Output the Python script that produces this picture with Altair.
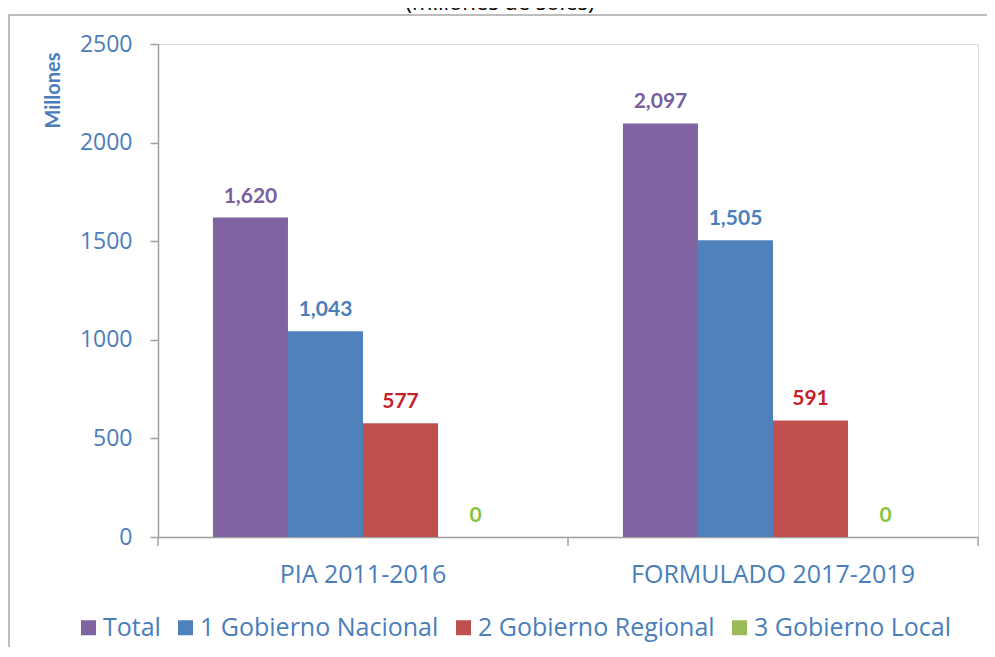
import altair as alt
import pandas as pd

grupos = ["PIA 2011-2016", "FORMULADO 2017-2019"]
series = ["Total", "1 Gobierno Nacional", "2 Gobierno Regional", "3 Gobierno Local"]
valores = {
    "PIA 2011-2016": [1620, 1043, 577, 0],
    "FORMULADO 2017-2019": [2097, 1505, 591, 0],
}
bar_colors = ["#8064a2", "#4f81bd", "#c0504d", "#9bbb59"]
label_colors = ["#7a5ea0", "#4a7ebb", "#c8202a", "#86c440"]
y_ticks = [0, 500, 1000, 1500, 2000, 2500]
subtitulo = "(millones de soles)"
# category boundaries (around / between groups) where Excel puts x ticks
limites = [0, 1, 2]

rows = []
for g in grupos:
    for s, v in zip(series, valores[g]):
        rows.append({"grupo": g, "serie": s, "valor": v})
df = pd.DataFrame(rows)

FONT = "Open Sans"
BFONT = "Lato"
AXIS_BLUE = "#4a7ebb"
GRAY = "#a0a0a0"


def x_scale():
    return alt.Scale(paddingInner=0.268, paddingOuter=0.134)


def off_scale():
    return alt.Scale(paddingInner=0, paddingOuter=0)


x_enc = alt.X(
    "grupo:N",
    sort=grupos,
    scale=x_scale(),
    axis=alt.Axis(
        title=None,
        labelAngle=0,
        labelFontSize=25,
        labelFont=FONT,
        labelColor=AXIS_BLUE,
        labelPadding=25,
        labelLimit=0,
        ticks=False,
        domainColor=GRAY,
        domainWidth=1.5,
    ),
)
y_enc = alt.Y(
    "valor:Q",
    scale=alt.Scale(domain=[0, 2500], nice=False),
    axis=alt.Axis(
        title="Millones",
        titleFont=BFONT,
        titleFontSize=20,
        titleFontWeight="bold",
        titleColor=AXIS_BLUE,
        titleAngle=-90,
        titleX=-105,
        titleY=8,
        titleAlign="right",
        titleBaseline="middle",
        values=y_ticks,
        format="d",
        labelFontSize=23,
        labelFont=FONT,
        labelColor=AXIS_BLUE,
        labelPadding=18,
        tickSize=8,
        tickColor=GRAY,
        domainColor=GRAY,
        domainWidth=1.5,
        tickWidth=1.5,
        grid=False,
    ),
)

base = alt.Chart(df)

bars = base.mark_bar().encode(
    x=x_enc,
    xOffset=alt.XOffset("serie:N", sort=series, scale=off_scale()),
    y=y_enc,
    color=alt.Color(
        "serie:N",
        sort=series,
        scale=alt.Scale(domain=series, range=bar_colors),
        legend=alt.Legend(
            title=None,
            orient="none",
            legendX=-82,
            legendY=571,
            direction="horizontal",
            columns=4,
            symbolType="square",
            symbolSize=225,
            symbolStrokeWidth=0,
            labelFont=FONT,
            labelFontSize=25,
            labelColor=AXIS_BLUE,
            labelOffset=2,
            labelLimit=0,
            columnPadding=12,
        ),
    ),
)

labels = base.mark_text(
    font=BFONT, fontSize=21, fontWeight="bold", baseline="alphabetic", dy=-15
).encode(
    x=alt.X("grupo:N", sort=grupos, scale=x_scale(), axis=None),
    xOffset=alt.XOffset("serie:N", sort=series, scale=off_scale()),
    y=alt.Y("valor:Q"),
    text=alt.Text("valor:Q", format=",.0f"),
    color=alt.Color(
        "serie:N",
        scale=alt.Scale(domain=series, range=label_colors),
        legend=None,
    ),
)

ticks = alt.Chart(pd.DataFrame({"b": limites})).mark_rule(
    color=GRAY, strokeWidth=1.5
).encode(
    x=alt.X("b:Q", scale=alt.Scale(domain=[0, 2], nice=False, zero=False), axis=None),
    y=alt.value(493),
    y2=alt.value(502),
)

frame = alt.Chart(pd.DataFrame({"k": [0]})).mark_rect(
    fill=None, stroke="#a8a8a8", strokeWidth=1.5
).encode(
    x=alt.value(-149), x2=alt.value(1000), y=alt.value(-29), y2=alt.value(800)
)

title_text = alt.Chart(pd.DataFrame({"t": [subtitulo]})).mark_text(
    font=FONT, fontSize=22, color="#000000", baseline="alphabetic", align="center"
).encode(text="t:N", x=alt.value(342), y=alt.value(-34))

chart = (
    alt.layer(frame, bars, labels, ticks, title_text)
    .resolve_scale(color="independent", x="independent")
    .properties(
        width=820,
        height=493,
        autosize=alt.AutoSizeParams(type="none"),
        padding={"left": 150, "top": 36, "right": 9, "bottom": 110},
    )
    .configure_view(stroke=None)
    .configure(background="white")
)

chart.save("out.html", embed_options={"renderer": "svg", "actions": False})
